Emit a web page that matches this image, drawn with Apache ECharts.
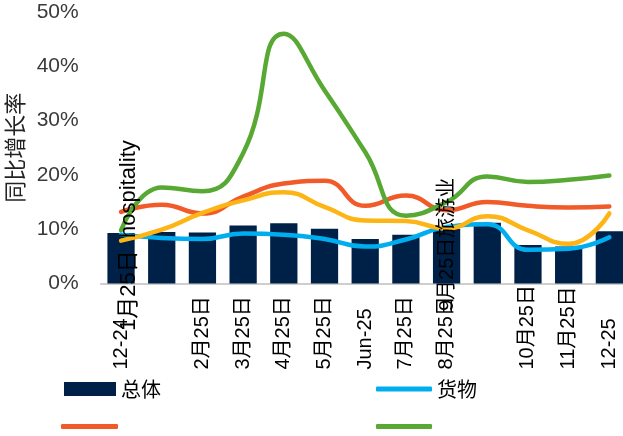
<!DOCTYPE html>
<html>
<head>
<meta charset="utf-8">
<script src="https://cdn.jsdelivr.net/npm/echarts@6/dist/echarts.min.js"></script>
<style>
html,body{margin:0;padding:0;background:#fff;}
#c{width:623px;height:436px;}
</style>
</head>
<body>
<div id="c"></div>
<script>
// ---- data ----
const categories = ['12-24','1月25日','2月25日','3月25日','4月25日','5月25日','Jun-25','7月25日','8月25日','9月25日','10月25日','11月25日','12-25'];
const hiddenTickIdx = [1, 9];           // these tick labels are displaced in the original
const yTicks = [0, 10, 20, 30, 40, 50];
const totalName = '总体';
const totalVals = [9.3, 9.5, 9.4, 10.7, 11.1, 10.1, 8.2, 9.0, 10.1, 11.2, 7.1, 6.8, 9.6];
const cargoName = '货物';
const cargoVals = [9.0, 8.4, 8.2, 9.2, 9.0, 8.2, 6.8, 8.1, 10.4, 10.9, 6.2, 6.4, 8.5];
const hospName = 'hospitality';
const hospVals = [13.2, 14.5, 12.9, 16.0, 18.4, 18.9, 14.3, 16.2, 13.5, 15.0, 14.3, 14.0, 14.2];
const travelName = '旅游业';
const travelVals = [9.8, 17.7, 17.0, 24.0, 46.0, 35.6, 24.2, 12.5, 15.0, 19.7, 18.7, 19.1, 19.9];
const otherName = '其他';
const otherVals = [7.9, 9.9, 13.0, 15.3, 16.8, 14.1, 11.6, 11.5, 10.1, 12.4, 9.8, 7.3, 12.9];
const yAxisTitle = '同比增长率';

const FONT = '"Liberation Sans", Arial, "Noto Sans CJK SC", sans-serif';
const CJK = '"Noto Sans CJK SC", sans-serif';
const C = {navy:'#002147', blue:'#00AEEF', orange:'#F15A29', green:'#57A933', yellow:'#FDB515'};

const chart = echarts.init(document.getElementById('c'), null, {renderer:'canvas'});

function lineSeries(name, vals, color, z){
  return {name, type:'line', data:vals, smooth:0.5, symbol:'none', z,
    lineStyle:{color, width:4.5, cap:'round'}, itemStyle:{color}};
}

const option = {
  animation:false,
  backgroundColor:'#fff',
  grid:{left:100.7, top:12, width:529, height:271.5, containLabel:false, outerBoundsMode:'none'},
  xAxis:{
    type:'category', data:categories,
    axisLine:{show:true, lineStyle:{color:'#BFBFBF', width:1.5}},
    axisTick:{show:false},
    axisLabel:{rotate:90, align:'left', margin:86, interval:0, fontSize:20, color:'#000', fontFamily:FONT,
      formatter:(v, i) => hiddenTickIdx.includes(i) ? '' : v}
  },
  yAxis:{
    type:'value', min:yTicks[0], max:yTicks[yTicks.length-1], interval:10,
    axisLine:{show:false}, axisTick:{show:false}, splitLine:{show:false},
    axisLabel:{formatter:'{value}%', fontSize:21, color:'#3A3A3A', margin:22, fontFamily:FONT},
    name:yAxisTitle, nameLocation:'middle', nameGap:72, nameRotate:90,
    nameTextStyle:{fontSize:22, color:'#222', fontFamily:CJK}
  },
  legend:[
    {data:[totalName], left:59, top:374, icon:'rect', itemWidth:52, itemHeight:14, itemGap:0,
      textStyle:{fontSize:20, color:'#000', fontFamily:CJK}},
    {data:[cargoName], left:371, top:374, icon:'roundRect', itemWidth:56, itemHeight:5,
      textStyle:{fontSize:20, color:'#000', fontFamily:CJK}},
    {data:[hospName], left:56, top:419, icon:'roundRect', itemWidth:57, itemHeight:5,
      formatter:() => '', textStyle:{fontSize:20}},
    {data:[travelName], left:371, top:419, icon:'roundRect', itemWidth:56, itemHeight:5,
      formatter:() => '', textStyle:{fontSize:20}}
  ],
  series:[
    {name:totalName, type:'bar', data:totalVals, barWidth:'67%', itemStyle:{color:C.navy}, z:1},
    lineSeries(cargoName, cargoVals, C.blue, 2),
    lineSeries(hospName, hospVals, C.orange, 3),
    lineSeries(travelName, travelVals, C.green, 4),
    lineSeries(otherName, otherVals, C.yellow, 5)
  ]
};
chart.setOption(option);

// displaced tick labels (merged with series names in the original)
const p1 = chart.convertToPixel({xAxisIndex:0}, 0);
const p9 = chart.convertToPixel({xAxisIndex:0}, 8);
chart.setOption({
  graphic:[
    {type:'text', x:p1 + 8, y:331, rotation:Math.PI/2, z:50,
      style:{text:categories[1] + '  ' + hospName, fontSize:22, fill:'#000', fontFamily:FONT,
        align:'left', verticalAlign:'middle'}},
    {type:'text', x:p9 + 1, y:311, rotation:Math.PI/2, z:50,
      style:{text:categories[9] + travelName, fontSize:20, fill:'#000', fontFamily:FONT,
        align:'left', verticalAlign:'middle'}}
  ]
});
</script>
</body>
</html>
